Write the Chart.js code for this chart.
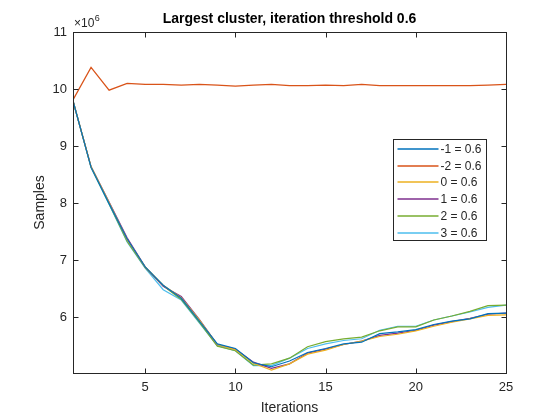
<!DOCTYPE html>
<html>
<head>
<meta charset="utf-8">
<script src="https://cdn.jsdelivr.net/npm/chart.js@4.4.1/dist/chart.umd.min.js"></script>
<style>
  html, body { margin: 0; padding: 0; background: #fff; }
</style>
</head>
<body>
<canvas id="clusterChart" width="560" height="420"></canvas>
<script>
// values in units of 1e6 samples
const iterations = [1, 2, 3, 4, 5, 6, 7, 8, 9, 10, 11, 12, 13, 14, 15, 16, 17, 18, 19, 20, 21, 22, 23, 24, 25];
const seriesLabels = ['-1 = 0.6', '-2 = 0.6', '0 = 0.6', '1 = 0.6', '2 = 0.6', '3 = 0.6'];
const seriesColors = ['#0072BD', '#D95319', '#EDB120', '#7E2F8E', '#77AC30', '#4DBEEE'];

const sMinus1 = [9.79, 8.63, 7.99, 7.37, 6.88, 6.56, 6.33, 5.93, 5.53, 5.45, 5.20, 5.13, 5.23, 5.38, 5.45, 5.53, 5.56, 5.71, 5.74, 5.78, 5.87, 5.93, 5.97, 6.06, 6.07];
const sMinus2 = [9.81, 10.38, 9.98, 10.10, 10.08, 10.08, 10.07, 10.08, 10.07, 10.05, 10.07, 10.08, 10.06, 10.06, 10.07, 10.06, 10.08, 10.06, 10.06, 10.06, 10.06, 10.06, 10.06, 10.07, 10.08];
const s0 = [9.79, 8.64, 8.01, 7.36, 6.88, 6.56, 6.34, 5.95, 5.52, 5.43, 5.19, 5.07, 5.18, 5.35, 5.42, 5.52, 5.58, 5.66, 5.70, 5.76, 5.84, 5.91, 5.97, 6.03, 6.04];
const s1 = [9.79, 8.64, 8.02, 7.39, 6.88, 6.54, 6.36, 5.96, 5.52, 5.44, 5.21, 5.10, 5.18, 5.37, 5.44, 5.52, 5.58, 5.68, 5.72, 5.77, 5.86, 5.92, 5.98, 6.05, 6.07];
const s2 = [9.79, 8.63, 7.99, 7.33, 6.87, 6.55, 6.31, 5.91, 5.49, 5.41, 5.16, 5.18, 5.28, 5.48, 5.57, 5.62, 5.65, 5.76, 5.83, 5.83, 5.95, 6.02, 6.10, 6.20, 6.21];
const s3 = [9.80, 8.62, 7.98, 7.32, 6.86, 6.48, 6.30, 5.90, 5.50, 5.41, 5.15, 5.15, 5.28, 5.45, 5.53, 5.59, 5.62, 5.77, 5.84, 5.84, 5.95, 6.02, 6.09, 6.17, 6.21];

const xTicks = [5, 10, 15, 20, 25];
const yTicks = [6, 7, 8, 9, 10, 11];

const allSeries = [sMinus1, sMinus2, s0, s1, s2, s3];
const FONT = 'Arial, "Liberation Sans", Helvetica, sans-serif';
const INK = '#262626';

// box, inward ticks, exponent label and legend, matlab style
const matlabAxes = {
    id: 'matlabAxes',
    afterDraw(chart) {
        const { ctx, chartArea: a, scales: { x, y } } = chart;
        ctx.save();
        ctx.strokeStyle = INK;
        ctx.lineWidth = 1;
        const L = Math.round(a.left) + 0.5, R = Math.round(a.right) + 0.5;
        const T = Math.round(a.top) + 0.5, B = Math.round(a.bottom) + 0.5;
        ctx.strokeRect(L, T, R - L, B - T);

        ctx.beginPath();
        x.ticks.forEach(t => {
            const px = Math.round(x.getPixelForValue(t.value)) + 0.5;
            ctx.moveTo(px, B); ctx.lineTo(px, B - 5);
            ctx.moveTo(px, T); ctx.lineTo(px, T + 5);
        });
        y.ticks.forEach(t => {
            const py = Math.round(y.getPixelForValue(t.value)) + 0.5;
            ctx.moveTo(L, py); ctx.lineTo(L + 5, py);
            ctx.moveTo(R, py); ctx.lineTo(R - 5, py);
        });
        ctx.stroke();

        // x10^6 exponent
        ctx.fillStyle = INK;
        ctx.textBaseline = 'alphabetic';
        ctx.font = '12px ' + FONT;
        ctx.fillText('\u00d710', a.left + 1, a.top - 5);
        const w = ctx.measureText('\u00d710').width;
        ctx.font = '9px ' + FONT;
        ctx.fillText('6', a.left + 1 + w + 0.5, a.top - 11);

        // legend
        const lx = 393.5, ly = 139.5, lw = 93, lh = 101;
        ctx.fillStyle = '#fff';
        ctx.fillRect(lx, ly, lw, lh);
        ctx.strokeStyle = INK;
        ctx.strokeRect(lx, ly, lw, lh);
        ctx.font = '12px ' + FONT;
        ctx.textBaseline = 'middle';
        chart.data.datasets.forEach((ds, i) => {
            const ry = Math.round(ly + 9.5 + i * 16.7);
            ctx.strokeStyle = ds.borderColor;
            ctx.lineWidth = 1.5;
            ctx.beginPath();
            ctx.moveTo(lx + 4, ry);
            ctx.lineTo(lx + 45, ry);
            ctx.stroke();
            ctx.fillStyle = INK;
            ctx.fillText(ds.label, lx + 47, ry + 1);
        });
        ctx.restore();
    }
};

new Chart(document.getElementById('clusterChart'), {
    type: 'line',
    data: {
        datasets: allSeries.map((s, i) => ({
            label: seriesLabels[i],
            data: iterations.map((it, j) => ({ x: it, y: s[j] })),
            borderColor: seriesColors[i],
            backgroundColor: seriesColors[i],
            borderWidth: 1.2,
            pointRadius: 0,
            tension: 0,
            fill: false
        }))
    },
    options: {
        responsive: false,
        animation: false,
        layout: { padding: { left: 0, right: 54, top: 0, bottom: 0 } },
        plugins: {
            legend: { display: false },
            tooltip: { enabled: false },
            title: {
                display: true,
                text: 'Largest cluster, iteration threshold 0.6',
                fullSize: false,
                color: '#000',
                font: { family: FONT, size: 14, weight: 'bold' },
                padding: { top: 10.6, bottom: 4.6 }
            }
        },
        scales: {
            x: {
                type: 'linear',
                min: 1,
                max: 25,
                afterBuildTicks: (axis) => { axis.ticks = xTicks.map(v => ({ value: v })); },
                afterFit: (axis) => { axis.height = 47; },
                grid: { display: false, drawTicks: false },
                border: { display: false },
                ticks: { color: INK, padding: 7, font: { family: FONT, size: 13 }, maxRotation: 0 },
                title: {
                    display: true, text: 'Iterations', color: INK,
                    font: { family: FONT, size: 14 }, padding: { top: 0, bottom: 3.8 }
                }
            },
            y: {
                min: 5.02,
                max: 11,
                afterBuildTicks: (axis) => { axis.ticks = yTicks.map(v => ({ value: v })); },
                afterFit: (axis) => { axis.width = 73; },
                grid: { display: false, drawTicks: false },
                border: { display: false },
                ticks: { color: INK, padding: 6, font: { family: FONT, size: 13 } },
                title: {
                    display: true, text: 'Samples', color: INK,
                    font: { family: FONT, size: 14 }, padding: { top: 31.6, bottom: 0 }
                }
            }
        }
    },
    plugins: [matlabAxes]
});
</script>
</body>
</html>
